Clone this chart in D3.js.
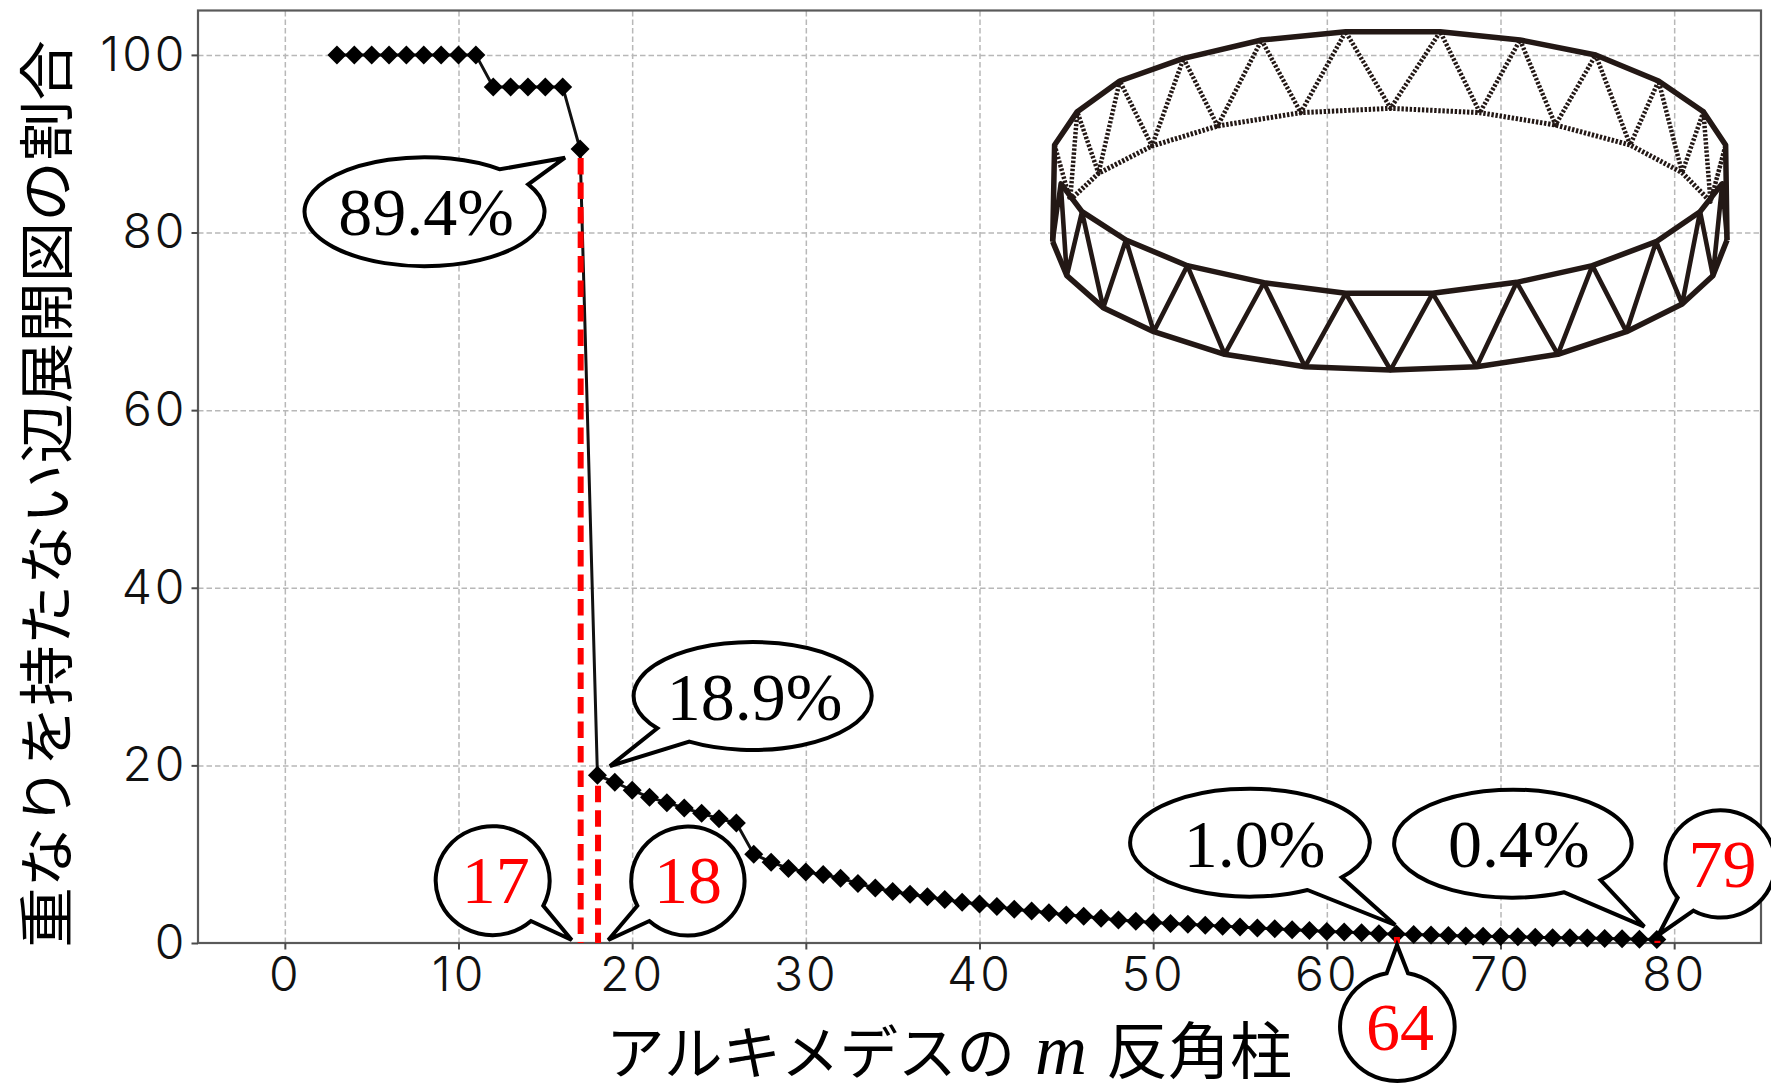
<!DOCTYPE html>
<html><head><meta charset="utf-8">
<script src="https://cdn.jsdelivr.net/npm/d3@7"></script>
<style>html,body{margin:0;padding:0;background:#fff;overflow:hidden}svg{display:block}</style>
</head><body><svg id="c" width="1771" height="1083"></svg>
<script>
// ---- data ----
const mValues = [3,4,5,6,7,8,9,10,11,12,13,14,15,16,17,18,19,20,21,22,23,24,25,26,27,28,29,30,31,32,33,34,35,36,37,38,39,40,41,42,43,44,45,46,47,48,49,50,51,52,53,54,55,56,57,58,59,60,61,62,63,64,65,66,67,68,69,70,71,72,73,74,75,76,77,78,79];
const ratios = [100,100,100,100,100,100,100,100,100,96.4,96.4,96.4,96.4,96.4,89.4,18.9,18.1,17.2,16.4,15.8,15.2,14.6,14.0,13.5,10.0,9.1,8.4,8.0,7.7,7.3,6.7,6.2,5.8,5.5,5.2,4.9,4.6,4.4,4.1,3.8,3.6,3.4,3.15,3.0,2.8,2.6,2.45,2.3,2.2,2.1,2.0,1.9,1.8,1.7,1.6,1.5,1.4,1.3,1.25,1.15,1.05,1.0,0.95,0.9,0.85,0.8,0.75,0.72,0.7,0.65,0.6,0.58,0.55,0.5,0.47,0.43,0.4];
const xTicks = [0,10,20,30,40,50,60,70,80];
const yTicks = [0,20,40,60,80,100];
const highlightM = [17,18,64,79];
const highlightTop = [88.4,17.7,0.68,0.25];
const yLabel = "重なりを持たない辺展開図の割合";
const xLabelA = "アルキメデスの", xLabelM = "m", xLabelB = "反角柱";
const callouts = [
 {t:"89.4%",red:false,e:[425,210.5,120,54.5],a:[528.3,184.3],b:[500,169.3],tip:[565,157.7],tx:426,ty:235},
 {t:"18.9%",red:false,e:[752,696.7,119,54],a:[657.3,728.3],b:[689.3,741.7],tip:[610,766],tx:754.7,ty:720},
 {t:"17",red:true,e:[493.7,880.5,57,54.5],a:[531,921],b:[543.3,905.7],tip:[571.7,940],tx:495.7,ty:903},
 {t:"18",red:true,e:[686,880.5,56.7,54.5],a:[637.3,905.7],b:[649.3,921],tip:[608.3,940],tx:688,ty:903},
 {t:"1.0%",red:false,e:[1250.6,842.5,119.8,54],a:[1307.5,890],b:[1341.8,877.3],tip:[1395.2,925],tx:1254.7,ty:866.7},
 {t:"0.4%",red:false,e:[1516,842.5,118.7,54],a:[1564.3,892.3],b:[1600.6,880],tip:[1644.3,926.7],tx:1518.9,ty:866.7},
 {t:"79",red:true,e:[1718,863.7,55,53.7],a:[1677.7,897.7],b:[1693.5,910.7],tip:[1658.4,935],tx:1722.6,ty:886.7},
 {t:"64",red:true,e:[1398,1027,57.3,54.3],a:[1408,973.3],b:[1386.7,973.3],tip:[1397,945],tx:1400,ty:1050}
];
// ring illustration, in its own drawing units
const ringBackTop = [[52,405],[100,305],[190,213],[325,145],[490,90],[668,65],[868,65],[1037,90],[1197,135],[1330,213],[1425,305],[1472,405]];
const ringBackLow = [[65,520],[85,570],[145,490],[258,408],[397,348],[573,308],[763,295],[952,308],[1112,345],[1270,405],[1380,488],[1440,575],[1465,520]];
const ringFrontTop = [[65,520],[110,605],[203,690],[333,767],[495,818],[668,850],[852,850],[1030,817],[1190,767],[1325,695],[1418,605],[1465,520]];
const ringFrontLow = [[48,695],[78,797],[155,893],[262,965],[412,1033],[582,1070],[763,1080],[945,1070],[1117,1033],[1262,965],[1380,882],[1445,797],[1475,690]];

// ---- layout ----
const L=198,R=1761,T=10.5,B=943;
const x=d3.scaleLinear().domain([-5,85]).range([L,R]);
const y=d3.scaleLinear().domain([0,105]).range([B,T]);
const svg=d3.select("#c");
const TICKF="Inter,'Liberation Sans',sans-serif", SERIF="'Liberation Serif',serif", CJK="'Noto Sans CJK JP',sans-serif";

// grid
svg.append("g").attr("transform",`translate(0,${B})`).call(d3.axisBottom(x).tickValues(xTicks).tickSize(-(B-T)).tickFormat(""))
  .call(g=>{g.select(".domain").remove();g.selectAll("line").attr("stroke","#b8b8b8").attr("stroke-width",1.5).attr("stroke-dasharray","5.5,3");});
svg.append("g").attr("transform",`translate(${L},0)`).call(d3.axisLeft(y).tickValues(yTicks.filter(d=>d>0)).tickSize(-(R-L)).tickFormat(""))
  .call(g=>{g.select(".domain").remove();g.selectAll("line").attr("stroke","#b8b8b8").attr("stroke-width",1.5).attr("stroke-dasharray","5.5,3");});

// frame
svg.append("rect").attr("x",L).attr("y",T).attr("width",R-L).attr("height",B-T).attr("fill","none").attr("stroke","#5a5a5a").attr("stroke-width",2.2);

// axes
const styleAxis=g=>{g.select(".domain").remove();g.selectAll("line").attr("stroke","#4a4a4a").attr("stroke-width",2);
  g.selectAll("text").attr("font-family",TICKF).attr("font-size",48).attr("font-weight",300).attr("letter-spacing",3).attr("fill","#111");};
svg.append("g").attr("transform",`translate(0,${B})`).call(d3.axisBottom(x).tickValues(xTicks).tickSize(6.5).tickPadding(7)).call(styleAxis);
svg.append("g").attr("transform",`translate(${L},0)`).call(d3.axisLeft(y).tickValues(yTicks).tickSize(6.5).tickPadding(4)).call(styleAxis);

// ring
const rx=d3.scaleLinear().domain([0,1568]).range([1030,1771]);
const ry=d3.scaleLinear().domain([0,1140]).range([10,390]);
const rl=d3.line().x(d=>rx(d[0])).y(d=>ry(d[1]));
const INK="#231815";
const ring=svg.append("g").attr("fill","none").attr("stroke",INK).attr("stroke-linejoin","round");
// dotted back
ring.append("path").attr("d",rl(ringBackLow.slice(1,-1))).attr("stroke-width",5).attr("stroke-dasharray","2.4,1.7");
const backZig=[];
for(let i=0;i<ringBackLow.length-2;i++){backZig.push(ringBackTop[i],ringBackLow[i+1]);}
backZig.push(ringBackTop[ringBackLow.length-2]);
backZig.push(ringBackLow[ringBackLow.length-2]);
ring.append("path").attr("d",rl(backZig)).attr("stroke-width",4.5).attr("stroke-dasharray","2.4,1.7");
// solid
ring.append("path").attr("d",rl([ringFrontLow[0],...ringBackTop,ringFrontLow[ringFrontLow.length-1]])).attr("stroke-width",5.5);
ring.append("path").attr("d",rl(ringFrontTop)).attr("stroke-width",5.5);
ring.append("path").attr("d",rl(ringFrontLow)).attr("stroke-width",5.5);
const zig=[ringFrontLow[0],ringFrontTop[0],ringFrontLow[1]];
for(let i=1;i<ringFrontTop.length;i++){zig.push(ringFrontTop[i],ringFrontLow[i+1]);}
ring.append("path").attr("d",rl(zig)).attr("stroke-width",4.6);

// series
const pts=mValues.map((m,i)=>[m,ratios[i]]);
svg.append("path").attr("d",d3.line().x(d=>x(d[0])).y(d=>y(d[1]))(pts)).attr("fill","none").attr("stroke","#111").attr("stroke-width",3);
const diamond={draw(ctx,size){const r=Math.sqrt(size/2);ctx.moveTo(0,-r);ctx.lineTo(r,0);ctx.lineTo(0,r);ctx.lineTo(-r,0);ctx.closePath();}};
svg.append("g").selectAll("path").data(pts).join("path")
  .attr("transform",d=>`translate(${x(d[0])},${y(d[1])})`)
  .attr("d",d3.symbol().type(diamond).size(2*9.5*9.5)).attr("fill","#000");

// red dashed
svg.append("g").selectAll("line").data(highlightM).join("line")
  .attr("x1",d=>x(d)+0.6).attr("x2",d=>x(d)+0.6)
  .attr("y1",(d,i)=>y(highlightTop[i])).attr("y2",y(0))
  .attr("stroke","#ff0000").attr("stroke-width",6).attr("stroke-dasharray","16.5,8");

// callouts
const co=svg.append("g");
callouts.forEach(c=>{
  const [cx,cy,a,b]=c.e;
  co.append("path").attr("d",`M${c.a[0]},${c.a[1]}A${a},${b} 0 1 1 ${c.b[0]},${c.b[1]}L${c.tip[0]},${c.tip[1]}Z`)
    .attr("fill","#fff").attr("stroke","#000").attr("stroke-width",4).attr("stroke-linejoin","miter");
  co.append("text").attr("x",c.tx).attr("y",c.ty).attr("text-anchor","middle")
    .attr("font-family",SERIF).attr("font-size",68).attr("fill",c.red?"#ff0000":"#000").text(c.t);
});

// axis titles
svg.append("text").attr("transform","translate(67,494) rotate(-90) scale(1,0.93)").attr("text-anchor","middle")
  .attr("font-family",CJK).attr("font-size",60.5).attr("fill","#000").text(yLabel);
svg.append("text").attr("x",606).attr("y",1074).attr("font-family",CJK).attr("font-size",58.5).attr("fill","#000").text(xLabelA);
svg.append("text").attr("x",1035).attr("y",1074).attr("font-family",SERIF).attr("font-style","italic").attr("font-size",72).attr("fill","#000").text(xLabelM);
svg.append("text").attr("x",1106).attr("y",1074).attr("font-family",CJK).attr("font-size",62).attr("fill","#000").text(xLabelB);
</script></body></html>
